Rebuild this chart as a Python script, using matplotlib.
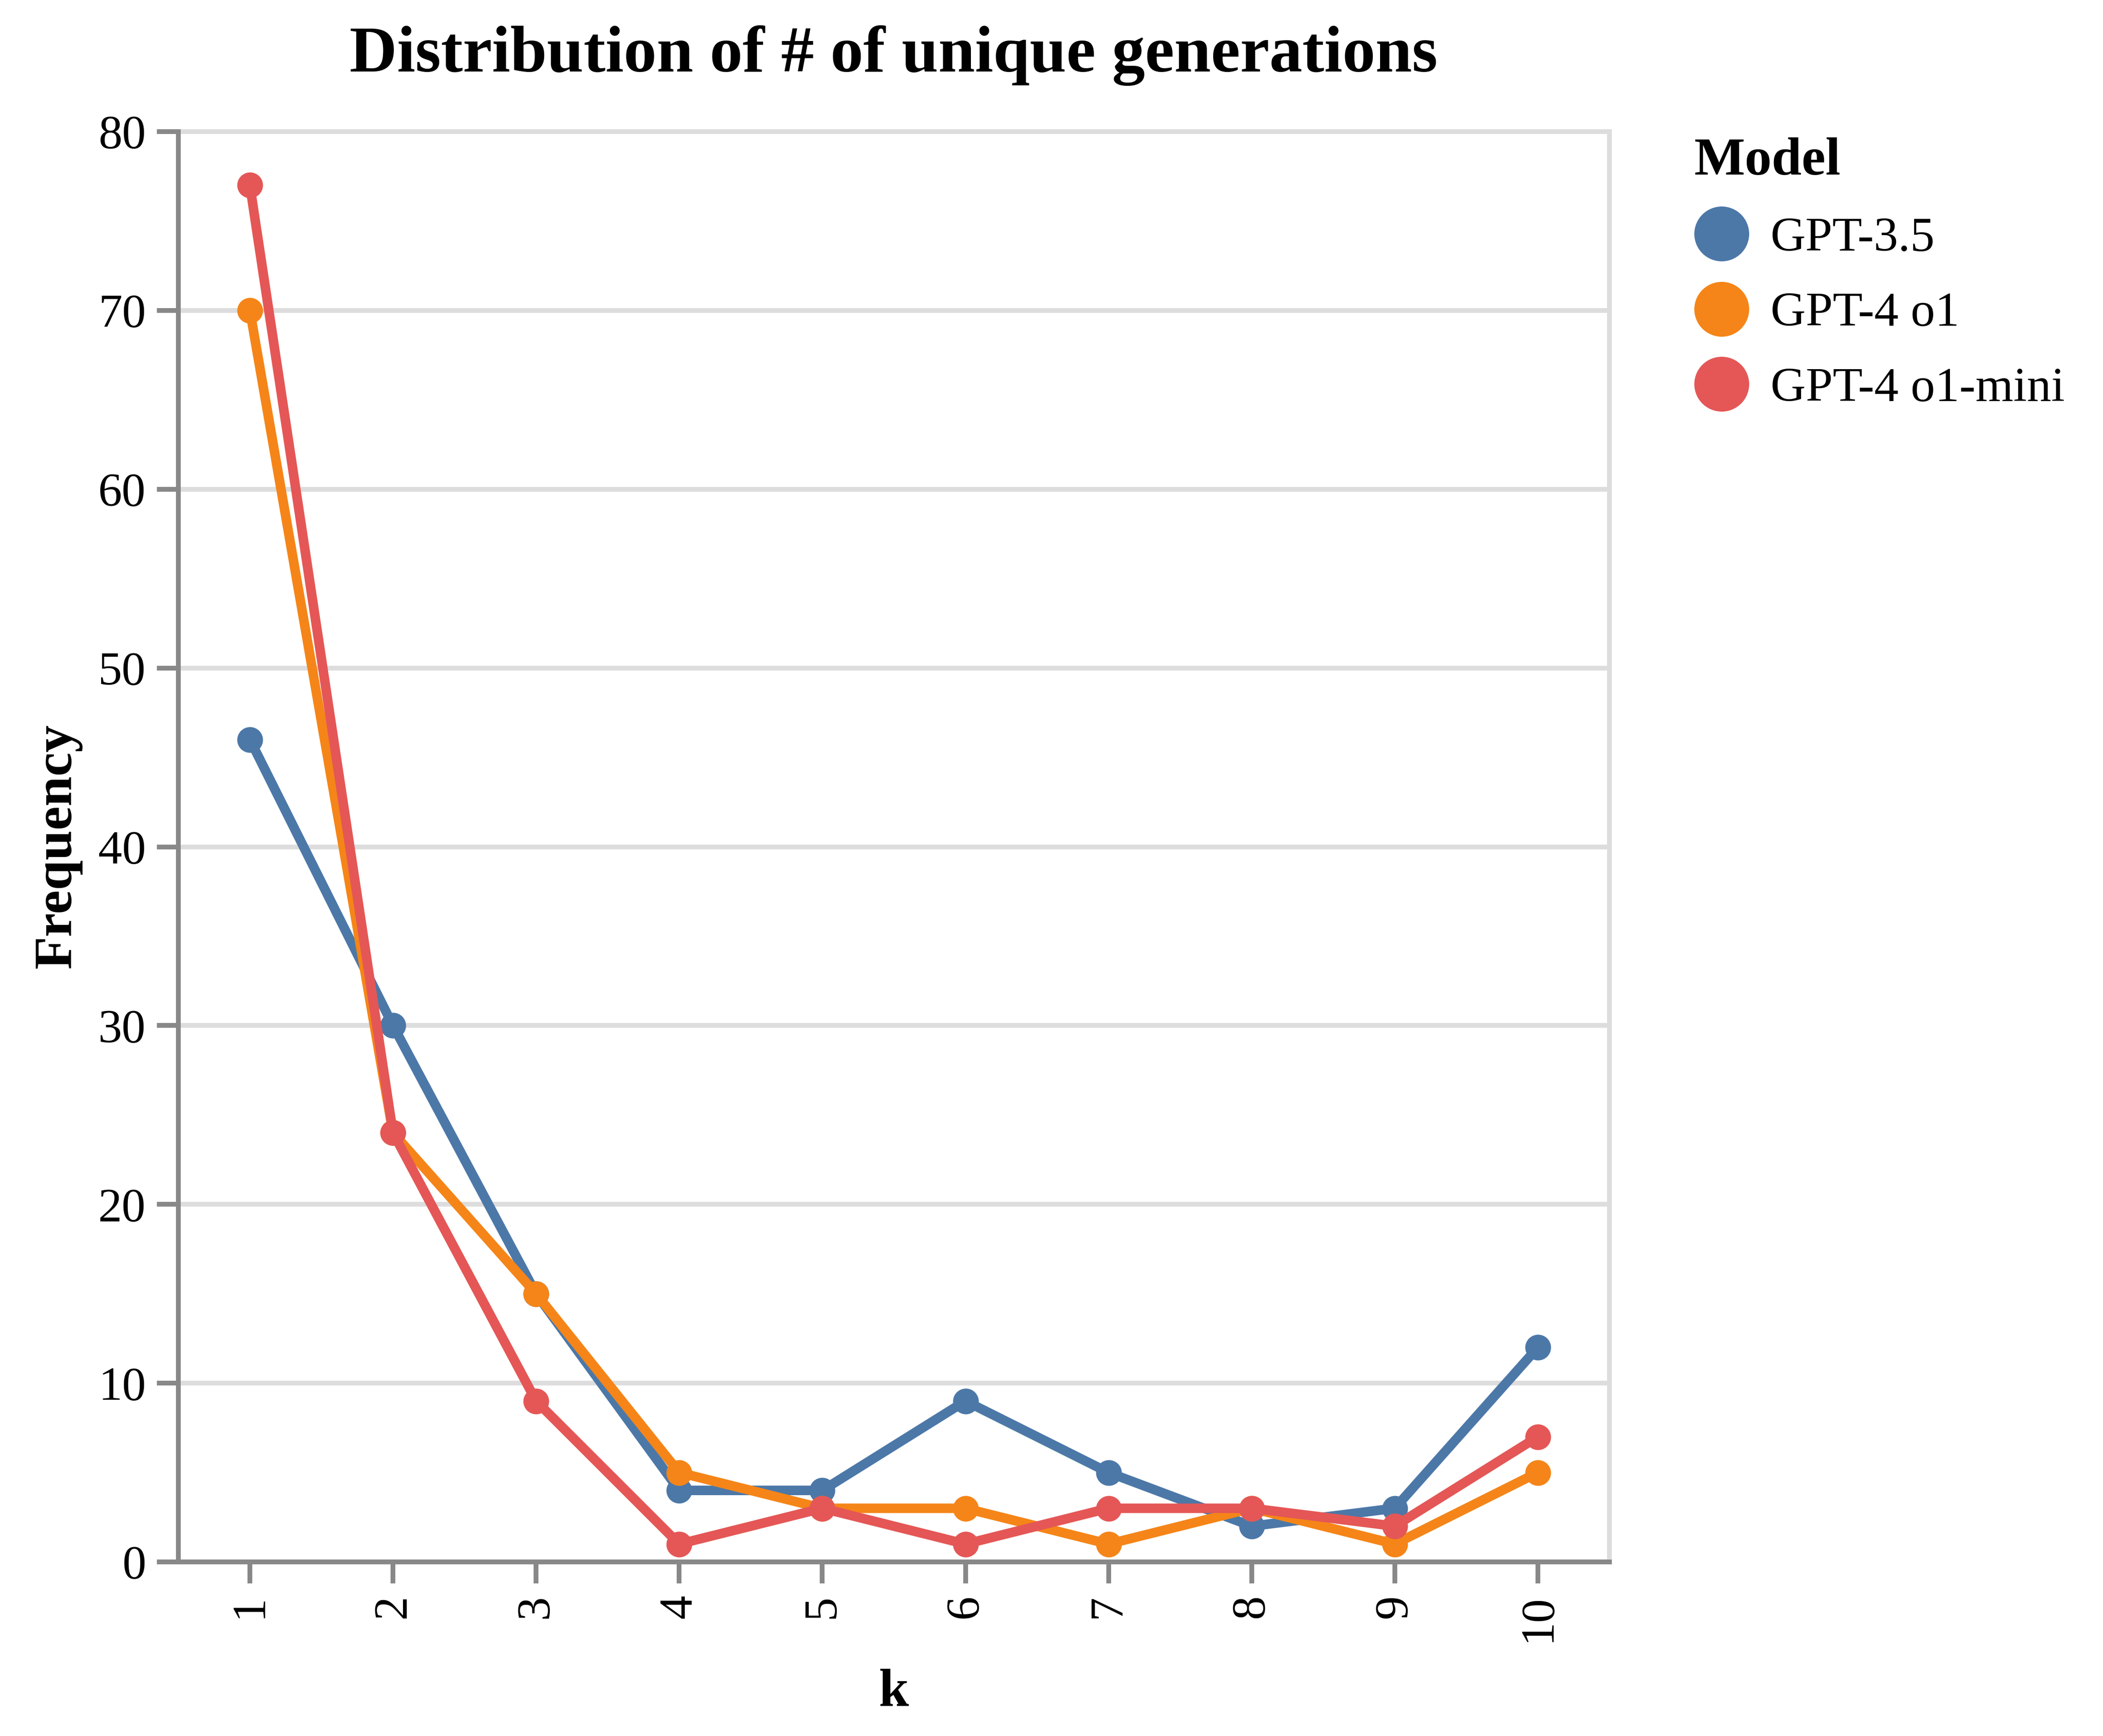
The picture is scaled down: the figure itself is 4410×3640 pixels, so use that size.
import numpy as np
import matplotlib.pyplot as plt
from matplotlib.lines import Line2D

# data
k = [1, 2, 3, 4, 5, 6, 7, 8, 9, 10]
gpt35 = [46, 30, 15, 4, 4, 9, 5, 2, 3, 12]
gpt4_o1 = [70, 24, 15, 5, 3, 3, 1, 3, 1, 5]
gpt4_o1_mini = [77, 24, 9, 1, 3, 1, 3, 3, 2, 7]
models = ['GPT-3.5', 'GPT-4 o1', 'GPT-4 o1-mini']
colors = ['#4c78a8', '#f58518', '#e45756']

W, H = 4410, 3640
DPI = 100
px = 72.0 / DPI  # pixels -> points

plt.rcParams['font.family'] = ['Liberation Serif', 'DejaVu Serif']

fig = plt.figure(figsize=(W / DPI, H / DPI), dpi=DPI)
left, right, top, bottom = 374, 3375, 276, 3275
ax = fig.add_axes([left / W, 1 - bottom / H, (right - left) / W, (bottom - top) / H])

for vals, col in zip([gpt35, gpt4_o1, gpt4_o1_mini], colors):
    ax.plot(k, vals, color=col, lw=20 * px, marker='o', ms=54 * px,
            mew=0, solid_joinstyle='miter', zorder=3)

ax.set_xlim(0.5, 10.5)
ax.set_ylim(0, 80)
ax.set_xticks(k)
ax.set_yticks(np.arange(0, 81, 10))
ax.set_xticklabels([str(v) for v in k], rotation=90, va='top', ha='center')

ax.grid(axis='y', color='#dddddd', lw=10 * px, zorder=0)
ax.set_axisbelow(True)
for s in ['left', 'bottom']:
    ax.spines[s].set_color('#888888')
    ax.spines[s].set_linewidth(10 * px)
    ax.spines[s].set_zorder(4)
for s in ['top', 'right']:
    ax.spines[s].set_color('#dddddd')
    ax.spines[s].set_linewidth(10 * px)
ax.tick_params(axis='both', length=45 * px, width=10 * px, color='#888888',
               labelsize=100 * px, pad=23 * px, labelcolor='black')

fig.text(1874 / W, 1 - 150 / H, 'Distribution of # of unique generations',
         ha='center', va='baseline', fontsize=138 * px, fontweight='bold')
fig.text(1874 / W, 1 - 3577 / H, 'k', ha='center', va='baseline',
         fontsize=113 * px, fontweight='bold')
fig.text(121 / W, 1 - 1775 / H, 'Frequency', ha='center', va='center',
         rotation=90, fontsize=113 * px, fontweight='bold')

handles = [Line2D([], [], ls='none', marker='o', ms=115 * px, mew=0, color=c) for c in colors]
leg = fig.legend(handles, models, loc='upper left',
                 bbox_to_anchor=(3552 / W, 1 - 288 / H), frameon=False,
                 fontsize=102 * px, title='Model', alignment='left',
                 title_fontproperties={'weight': 'bold', 'size': 113 * px},
                 handlelength=1.13, handletextpad=0.45, labelspacing=0.63,
                 borderpad=0, borderaxespad=0)

fig.savefig('out.png', dpi=DPI, facecolor='white')
